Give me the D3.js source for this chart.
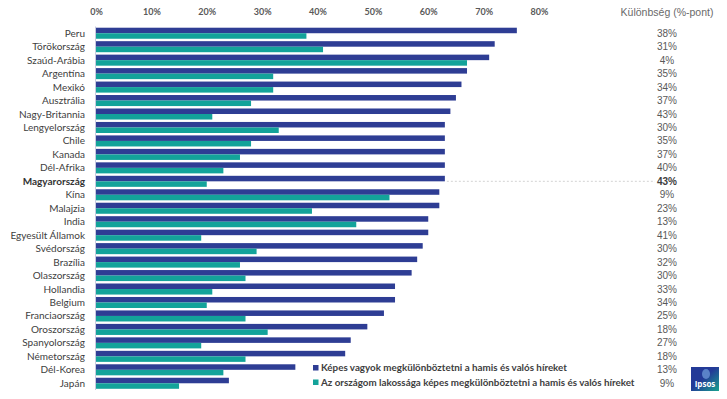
<!DOCTYPE html>
<html>
<head>
<meta charset="utf-8">
<script src="https://cdn.jsdelivr.net/npm/d3@7"></script>
<style>
  body { margin: 0; background: #fff; }
  svg { display: block; }
</style>
</head>
<body>
<div id="chart"></div>
<script>
// data
const countries = ['Peru', 'Törökország', 'Szaúd-Arábia', 'Argentína', 'Mexikó', 'Ausztrália',
  'Nagy-Britannia', 'Lengyelország', 'Chile', 'Kanada', 'Dél-Afrika', 'Magyarország', 'Kína',
  'Malajzia', 'India', 'Egyesült Államok', 'Svédország', 'Brazília', 'Olaszország', 'Hollandia',
  'Belgium', 'Franciaország', 'Oroszország', 'Spanyolország', 'Németország', 'Dél-Korea', 'Japán'];
const selfValues = [76, 72, 71, 67, 66, 65, 64, 63, 63, 63, 63, 63, 62, 62, 60, 60, 59, 58, 57, 54, 54, 52, 49, 46, 45, 36, 24];
const peopleValues = [38, 41, 67, 32, 32, 28, 21, 33, 28, 26, 23, 20, 53, 39, 47, 19, 29, 26, 27, 21, 20, 27, 31, 19, 27, 23, 15];
const diffLabels = ['38%', '31%', '4%', '35%', '34%', '37%', '43%', '30%', '35%', '37%', '40%', '43%', '9%',
  '23%', '13%', '41%', '30%', '32%', '30%', '33%', '34%', '25%', '18%', '27%', '18%', '13%', '9%'];
const xTicks = [0, 10, 20, 30, 40, 50, 60, 70, 80];
const seriesNames = ['Képes vagyok megkülönböztetni a hamis és valós híreket',
  'Az országom lakossága képes megkülönböztetni a hamis és valós híreket'];
const highlight = 'Magyarország';

const selfColor = '#2e3d94';
const peopleColor = '#13a39a';

const width = 727, height = 399;
const svg = d3.select('#chart').append('svg')
  .attr('width', width)
  .attr('height', height);

// scales
const x = d3.scaleLinear().domain([0, 80]).range([96, 539]);
const y = d3.scaleBand()
  .domain(countries)
  .range([26.5, 390])
  .paddingInner(0.18)
  .paddingOuter(0.09);
const half = y.bandwidth() / 2;

// top axis
const xAxis = d3.axisTop(x)
  .tickValues(xTicks)
  .tickSize(0)
  .tickFormat(d => d + '%');
const gx = svg.append('g')
  .attr('transform', 'translate(0,18)')
  .call(xAxis);
gx.select('.domain').remove();
gx.selectAll('.tick text')
  .attr('dy', 0)
  .style('font-family', 'Lato, "Open Sans", sans-serif')
  .style('font-weight', 'bold')
  .style('font-size', '9px')
  .style('fill', '#595959');

// vertical axis line
svg.append('line')
  .attr('x1', x(0) - 0.5).attr('x2', x(0) - 0.5)
  .attr('y1', y.range()[0]).attr('y2', y.range()[1])
  .attr('stroke', '#c8cbe0')
  .attr('stroke-width', 1);

// dashed leader for the highlighted country
const hi = countries.indexOf(highlight);
svg.append('line')
  .attr('x1', x(selfValues[hi]) + 2)
  .attr('x2', 655)
  .attr('y1', y(highlight) + half)
  .attr('y2', y(highlight) + half)
  .attr('stroke', '#c8c8c8')
  .attr('stroke-dasharray', '2,2')
  .attr('stroke-width', 0.8);

// bars
svg.selectAll('.bar-self')
  .data(countries)
  .join('rect')
  .attr('class', 'bar-self')
  .attr('x', x(0))
  .attr('y', d => y(d))
  .attr('width', (d, i) => x(selfValues[i]) - x(0))
  .attr('height', half)
  .attr('fill', selfColor);

svg.selectAll('.bar-people')
  .data(countries)
  .join('rect')
  .attr('class', 'bar-people')
  .attr('x', x(0))
  .attr('y', d => y(d) + half)
  .attr('width', (d, i) => x(peopleValues[i]) - x(0))
  .attr('height', half)
  .attr('fill', peopleColor);

// country labels
svg.selectAll('.label-country')
  .data(countries)
  .join('text')
  .attr('class', 'label-country')
  .attr('x', 85)
  .attr('y', d => y(d) + half)
  .attr('dy', '0.35em')
  .attr('text-anchor', 'end')
  .style('font-family', 'Lato, "Open Sans", sans-serif')
  .style('font-size', '10px')
  .style('font-weight', d => d === highlight ? 'bold' : 'normal')
  .style('fill', d => d === highlight ? '#333' : '#404040')
  .text(d => d);

// difference column
svg.append('text')
  .attr('x', 667)
  .attr('y', 16)
  .attr('text-anchor', 'middle')
  .style('font-family', '"Liberation Sans", Arial, sans-serif')
  .style('font-size', '10.5px')
  .style('fill', '#6a6a6a')
  .text('Különbség (%-pont)');

svg.selectAll('.label-diff')
  .data(countries)
  .join('text')
  .attr('class', 'label-diff')
  .attr('x', 667)
  .attr('y', d => y(d) + half)
  .attr('dy', '0.35em')
  .attr('text-anchor', 'middle')
  .style('font-family', '"Liberation Sans", Arial, sans-serif')
  .style('font-size', '10px')
  .style('font-weight', d => d === highlight ? 'bold' : 'normal')
  .style('fill', d => d === highlight ? '#404040' : '#595959')
  .text((d, i) => diffLabels[i]);

// legend
const legend = svg.append('g')
  .attr('transform', 'translate(313,368)');
const legendItems = legend.selectAll('.legend-item')
  .data(seriesNames)
  .join('g')
  .attr('class', 'legend-item')
  .attr('transform', (d, i) => `translate(0, ${i * 14.5})`);
legendItems.append('rect')
  .attr('x', 0)
  .attr('y', -3)
  .attr('width', 5.5)
  .attr('height', 5.5)
  .attr('fill', (d, i) => i === 0 ? selfColor : peopleColor);
legendItems.append('text')
  .attr('x', 8)
  .attr('y', 0)
  .attr('dy', '0.35em')
  .style('font-family', 'Lato, "Open Sans", sans-serif')
  .style('font-size', '9.8px')
  .style('font-weight', 'bold')
  .style('fill', '#404040')
  .text(d => d);

// Ipsos logo
const logo = svg.append('g').attr('transform', 'translate(691,367)');
const grad = svg.append('defs').append('linearGradient')
  .attr('id', 'logo-grad')
  .attr('x1', '0').attr('y1', '0').attr('x2', '1').attr('y2', '1');
grad.append('stop').attr('offset', '0.45').attr('stop-color', '#233a97');
grad.append('stop').attr('offset', '1').attr('stop-color', '#17a38f');
logo.append('rect')
  .attr('width', 28).attr('height', 24)
  .attr('fill', 'url(#logo-grad)');
logo.append('ellipse')
  .attr('cx', 15).attr('cy', 7).attr('rx', 4).attr('ry', 5)
  .attr('fill', '#5a82c8');
logo.append('text')
  .attr('x', 14).attr('y', 19.5)
  .attr('text-anchor', 'middle')
  .style('font-family', '"Open Sans", sans-serif')
  .style('font-size', '8px')
  .style('font-weight', 'bold')
  .style('fill', '#fff')
  .text('Ipsos');
</script>
</body>
</html>
